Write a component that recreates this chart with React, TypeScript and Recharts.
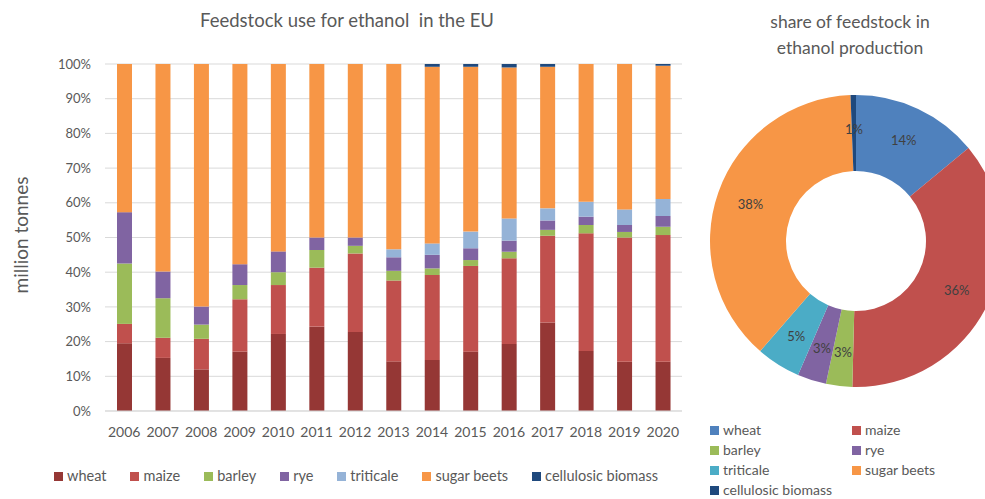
import { BarChart, Bar, XAxis, YAxis, CartesianGrid, PieChart, Pie, Cell } from 'recharts';

// shares of feedstock per year, in % of total
const years = ['2006', '2007', '2008', '2009', '2010', '2011', '2012', '2013', '2014', '2015', '2016', '2017', '2018', '2019', '2020'];
const wheat = [19.5, 15.3, 12.0, 17.1, 22.2, 24.3, 22.8, 14.3, 14.7, 17.1, 19.3, 25.5, 17.3, 14.2, 14.2];
const maize = [5.6, 5.8, 8.8, 15.1, 14.1, 17.0, 22.6, 23.3, 24.5, 24.7, 24.7, 25.0, 33.9, 35.8, 36.5];
const barley = [17.4, 11.4, 4.1, 4.1, 3.7, 5.1, 2.2, 2.8, 1.9, 1.7, 1.9, 1.7, 2.4, 1.6, 2.4];
const rye = [14.8, 7.7, 5.2, 6.0, 6.0, 3.6, 2.4, 3.9, 3.9, 3.4, 3.2, 2.7, 2.4, 2.0, 3.1];
const triticale = [0, 0, 0, 0, 0, 0, 0, 2.3, 3.3, 4.8, 6.4, 3.5, 4.3, 4.5, 4.9];
const sugarBeets = [42.7, 59.8, 69.9, 57.7, 54.0, 50.0, 50.0, 53.4, 50.9, 47.5, 43.5, 40.8, 39.7, 41.9, 38.4];
const cellulosic = [0, 0, 0, 0, 0, 0, 0, 0, 0.8, 0.8, 1.0, 0.8, 0, 0, 0.5];
const yTicks = [0, 10, 20, 30, 40, 50, 60, 70, 80, 90, 100];

const series = [
  { key: 'wheat', values: wheat, color: '#953735' },
  { key: 'maize', values: maize, color: '#C0504D' },
  { key: 'barley', values: barley, color: '#9BBB59' },
  { key: 'rye', values: rye, color: '#8064A2' },
  { key: 'triticale', values: triticale, color: '#95B3D7' },
  { key: 'sugar beets', values: sugarBeets, color: '#F79646' },
  { key: 'cellulosic biomass', values: cellulosic, color: '#1F497D' },
];

// donut: overall share of feedstock
const shareNames = ['wheat', 'maize', 'barley', 'rye', 'triticale', 'sugar beets', 'cellulosic biomass'];
const shareValues = [14, 36.4, 2.9, 3.2, 4.9, 38, 0.6];
const shareColors = ['#4F81BD', '#C0504D', '#9BBB59', '#8064A2', '#4BACC6', '#F79646', '#1F497D'];

const TEXT = '#595959';
const RADIAN = Math.PI / 180;

const chartData = years.map((year, i) => {
  const row: Record<string, number | string> = { year };
  series.forEach(s => { row[s.key] = s.values[i]; });
  return row;
});

const shareData = shareNames.map((name, i) => ({ name, value: shareValues[i] }));

function renderShareLabel(props: any) {
  const { cx, cy, midAngle, innerRadius, outerRadius, value } = props;
  const r = (innerRadius + outerRadius) / 2 + 4;
  const x = cx + r * Math.cos(-midAngle * RADIAN);
  const y = cy + r * Math.sin(-midAngle * RADIAN);
  return (
    <text x={x} y={y} textAnchor="middle" dominantBaseline="central" fill="#404040" fontSize={13}>
      {Math.round(value)}%
    </text>
  );
}

function Swatch({ color }: { color: string }) {
  return <span style={{ display: 'inline-block', width: 9, height: 9, background: color, marginRight: 4 }} />;
}

export default function App() {
  return (
    <div style={{ position: 'absolute', left: 0, top: 0, width: 985, height: 499, background: '#fff', fontFamily: 'Lato, sans-serif', color: TEXT, overflow: 'hidden' }}>
      <div style={{ position: 'absolute', left: 147, top: 9, width: 400, textAlign: 'center', fontSize: 18.5, lineHeight: '22px' }}>
        Feedstock use for ethanol&nbsp; in the EU
      </div>
      <div style={{ position: 'absolute', left: 20, top: 235, transform: 'translate(-50%, -50%) rotate(-90deg)', whiteSpace: 'nowrap', fontSize: 19 }}>
        million tonnes
      </div>

      <div style={{ position: 'absolute', left: 0, top: 0 }}>
        <BarChart width={700} height={499} data={chartData} margin={{ top: 64, right: 18, bottom: 58, left: 10 }}>
          <CartesianGrid vertical={false} stroke="#D9D9D9" />
          <XAxis
            dataKey="year"
            height={30}
            tickLine={false}
            tickSize={0}
            tickMargin={16}
            axisLine={{ stroke: '#D9D9D9' }}
            tick={{ fill: TEXT, fontSize: 14 }}
            interval={0}
          />
          <YAxis
            width={95}
            domain={[0, 100]}
            ticks={yTicks}
            tickFormatter={(v: number) => `${v}%`}
            tickLine={false}
            tickSize={0}
            tickMargin={14}
            axisLine={false}
            tick={{ fill: TEXT, fontSize: 13 }}
          />
          {series.map(s => (
            <Bar key={s.key} dataKey={s.key} stackId="a" fill={s.color} barSize={15} isAnimationActive={false} />
          ))}
        </BarChart>
      </div>

      <div style={{ position: 'absolute', left: 54, top: 467, display: 'flex', gap: 24, fontSize: 14.5, lineHeight: '18px', whiteSpace: 'nowrap' }}>
        {series.map(s => (
          <div key={s.key} style={{ display: 'flex', alignItems: 'center' }}>
            <Swatch color={s.color} />
            {s.key}
          </div>
        ))}
      </div>

      <div style={{ position: 'absolute', left: 700, top: 9, width: 300, textAlign: 'center', fontSize: 17.5, lineHeight: '26px' }}>
        share of feedstock in<br />ethanol production
      </div>

      <div style={{ position: 'absolute', left: 700, top: 0 }}>
        <PieChart width={285} height={499} margin={{ top: 0, right: 0, bottom: 0, left: 0 }}>
          <Pie
            data={shareData}
            dataKey="value"
            nameKey="name"
            cx={156}
            cy={241}
            innerRadius={70}
            outerRadius={146}
            startAngle={90}
            endAngle={-270}
            stroke="none"
            label={renderShareLabel}
            labelLine={false}
            isAnimationActive={false}
          >
            {shareData.map((d, i) => (
              <Cell key={d.name} fill={shareColors[i]} />
            ))}
          </Pie>
        </PieChart>
      </div>

      <div style={{ position: 'absolute', left: 710, top: 421, display: 'grid', gridTemplateColumns: '142px 142px', rowGap: 2, fontSize: 14, lineHeight: '18px', whiteSpace: 'nowrap' }}>
        {shareNames.map((name, i) => (
          <div key={name} style={{ display: 'flex', alignItems: 'center' }}>
            <Swatch color={shareColors[i]} />
            {name}
          </div>
        ))}
      </div>
    </div>
  );
}
